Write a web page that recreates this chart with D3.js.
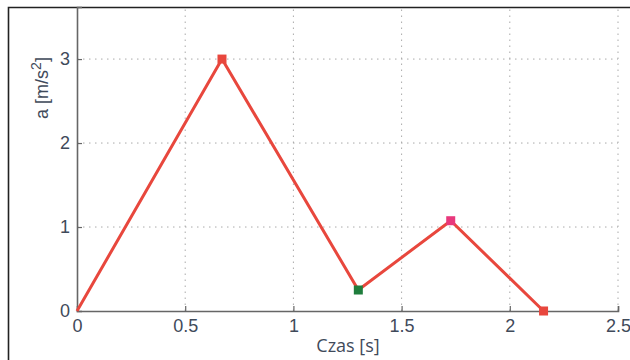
<!DOCTYPE html>
<html>
<head>
<meta charset="utf-8">
<script src="https://cdn.jsdelivr.net/npm/d3@7/dist/d3.min.js"></script>
<style>
    body { margin: 0; background: #fff; }
    svg { display: block; }
</style>
</head>
<body>
<div id="chart"></div>
<script>
// data
var times = [0, 0.67, 1.30, 1.727, 2.156];
var accel = [0, 3.0, 0.25, 1.075, 0];
var markerColors = ["#e8473d", "#1f7d3c", "#e8387c", "#e8473d"];
var xTicks = [0, 0.5, 1, 1.5, 2, 2.5];
var yTicks = [0, 1, 2, 3];

var width = 630, height = 360;

var svg = d3.select("#chart").append("svg")
    .attr("width", width)
    .attr("height", height);

// outer frame (cropped figure border)
svg.append("path")
    .attr("d", "M8.5," + height + " V7.5 H" + width)
    .attr("fill", "none")
    .attr("stroke", "#222")
    .attr("stroke-width", 1.6);

var x = d3.scaleLinear().domain([0, 2.5]).range([77, 618]);
var y = d3.scaleLinear().domain([0, 3.62]).range([311, 7]);

// grid
var grid = svg.append("g").attr("stroke", "#aaa").attr("stroke-width", 1)
    .attr("stroke-dasharray", "1.5,4.5");
grid.selectAll(".vg").data(xTicks.slice(1)).enter().append("line")
    .attr("x1", function(d) { return x(d); }).attr("x2", function(d) { return x(d); })
    .attr("y1", y(0)).attr("y2", 9);
grid.selectAll(".hg").data(yTicks.slice(1)).enter().append("line")
    .attr("x1", x(0)).attr("x2", x(2.5))
    .attr("y1", function(d) { return y(d); }).attr("y2", function(d) { return y(d); });

// axes
var xAxis = svg.append("g")
    .attr("transform", "translate(0," + y(0) + ")")
    .call(d3.axisBottom(x).tickValues(xTicks).tickSize(-5).tickPadding(10)
        .tickFormat(function(d) { return d; }));
var yAxis = svg.append("g")
    .attr("transform", "translate(" + x(0) + ",0)")
    .call(d3.axisLeft(y).tickValues(yTicks).tickSize(-5).tickPadding(7)
        .tickFormat(d3.format("d")));

[xAxis, yAxis].forEach(function(ax) {
    ax.select(".domain").attr("stroke", "#666").attr("stroke-width", 1.6);
    ax.selectAll(".tick line").attr("stroke", "#666").attr("stroke-width", 1.2);
    ax.selectAll("text")
        .attr("fill", "#3f4a5a")
        .style("font-family", "'Liberation Sans', Arial, sans-serif")
        .style("font-size", "18px");
});
xAxis.selectAll("text").attr("dy", "0.6em");
xAxis.selectAll(".tick").filter(function(d) { return d === 0; }).select("line").remove();
yAxis.selectAll(".tick").filter(function(d) { return d === 0; }).select("line").remove();

// line
var line = d3.line()
    .x(function(d) { return x(d[0]); })
    .y(function(d) { return y(d[1]); });
var pts = times.map(function(t, i) { return [t, accel[i]]; });

svg.append("path")
    .datum(pts)
    .attr("d", line)
    .attr("fill", "none")
    .attr("stroke", "#e8473d")
    .attr("stroke-width", 3)
    .attr("stroke-linejoin", "miter");

// square markers (skip first point)
svg.selectAll(".mk").data(pts.slice(1)).enter().append("rect")
    .attr("x", function(d) { return x(d[0]) - 4.5; })
    .attr("y", function(d) { return y(d[1]) - 4.5; })
    .attr("width", 9)
    .attr("height", 9)
    .attr("fill", function(d, i) { return markerColors[i]; });

// labels
svg.append("text")
    .attr("x", 348).attr("y", 352)
    .attr("text-anchor", "middle")
    .attr("fill", "#3f4a5a")
    .style("font-family", "'Open Sans', sans-serif")
    .style("font-size", "18px")
    .text("Czas [s]");

var yl = svg.append("text")
    .attr("transform", "translate(48,88) rotate(-90)")
    .attr("text-anchor", "middle")
    .attr("fill", "#3f4a5a")
    .style("font-family", "'Liberation Sans', Arial, sans-serif")
    .style("font-size", "18px");
yl.append("tspan").text("a [m/s");
yl.append("tspan").attr("dy", "-7").style("font-size", "14px").text("2");
yl.append("tspan").attr("dy", "7").text("]");
</script>
</body>
</html>
